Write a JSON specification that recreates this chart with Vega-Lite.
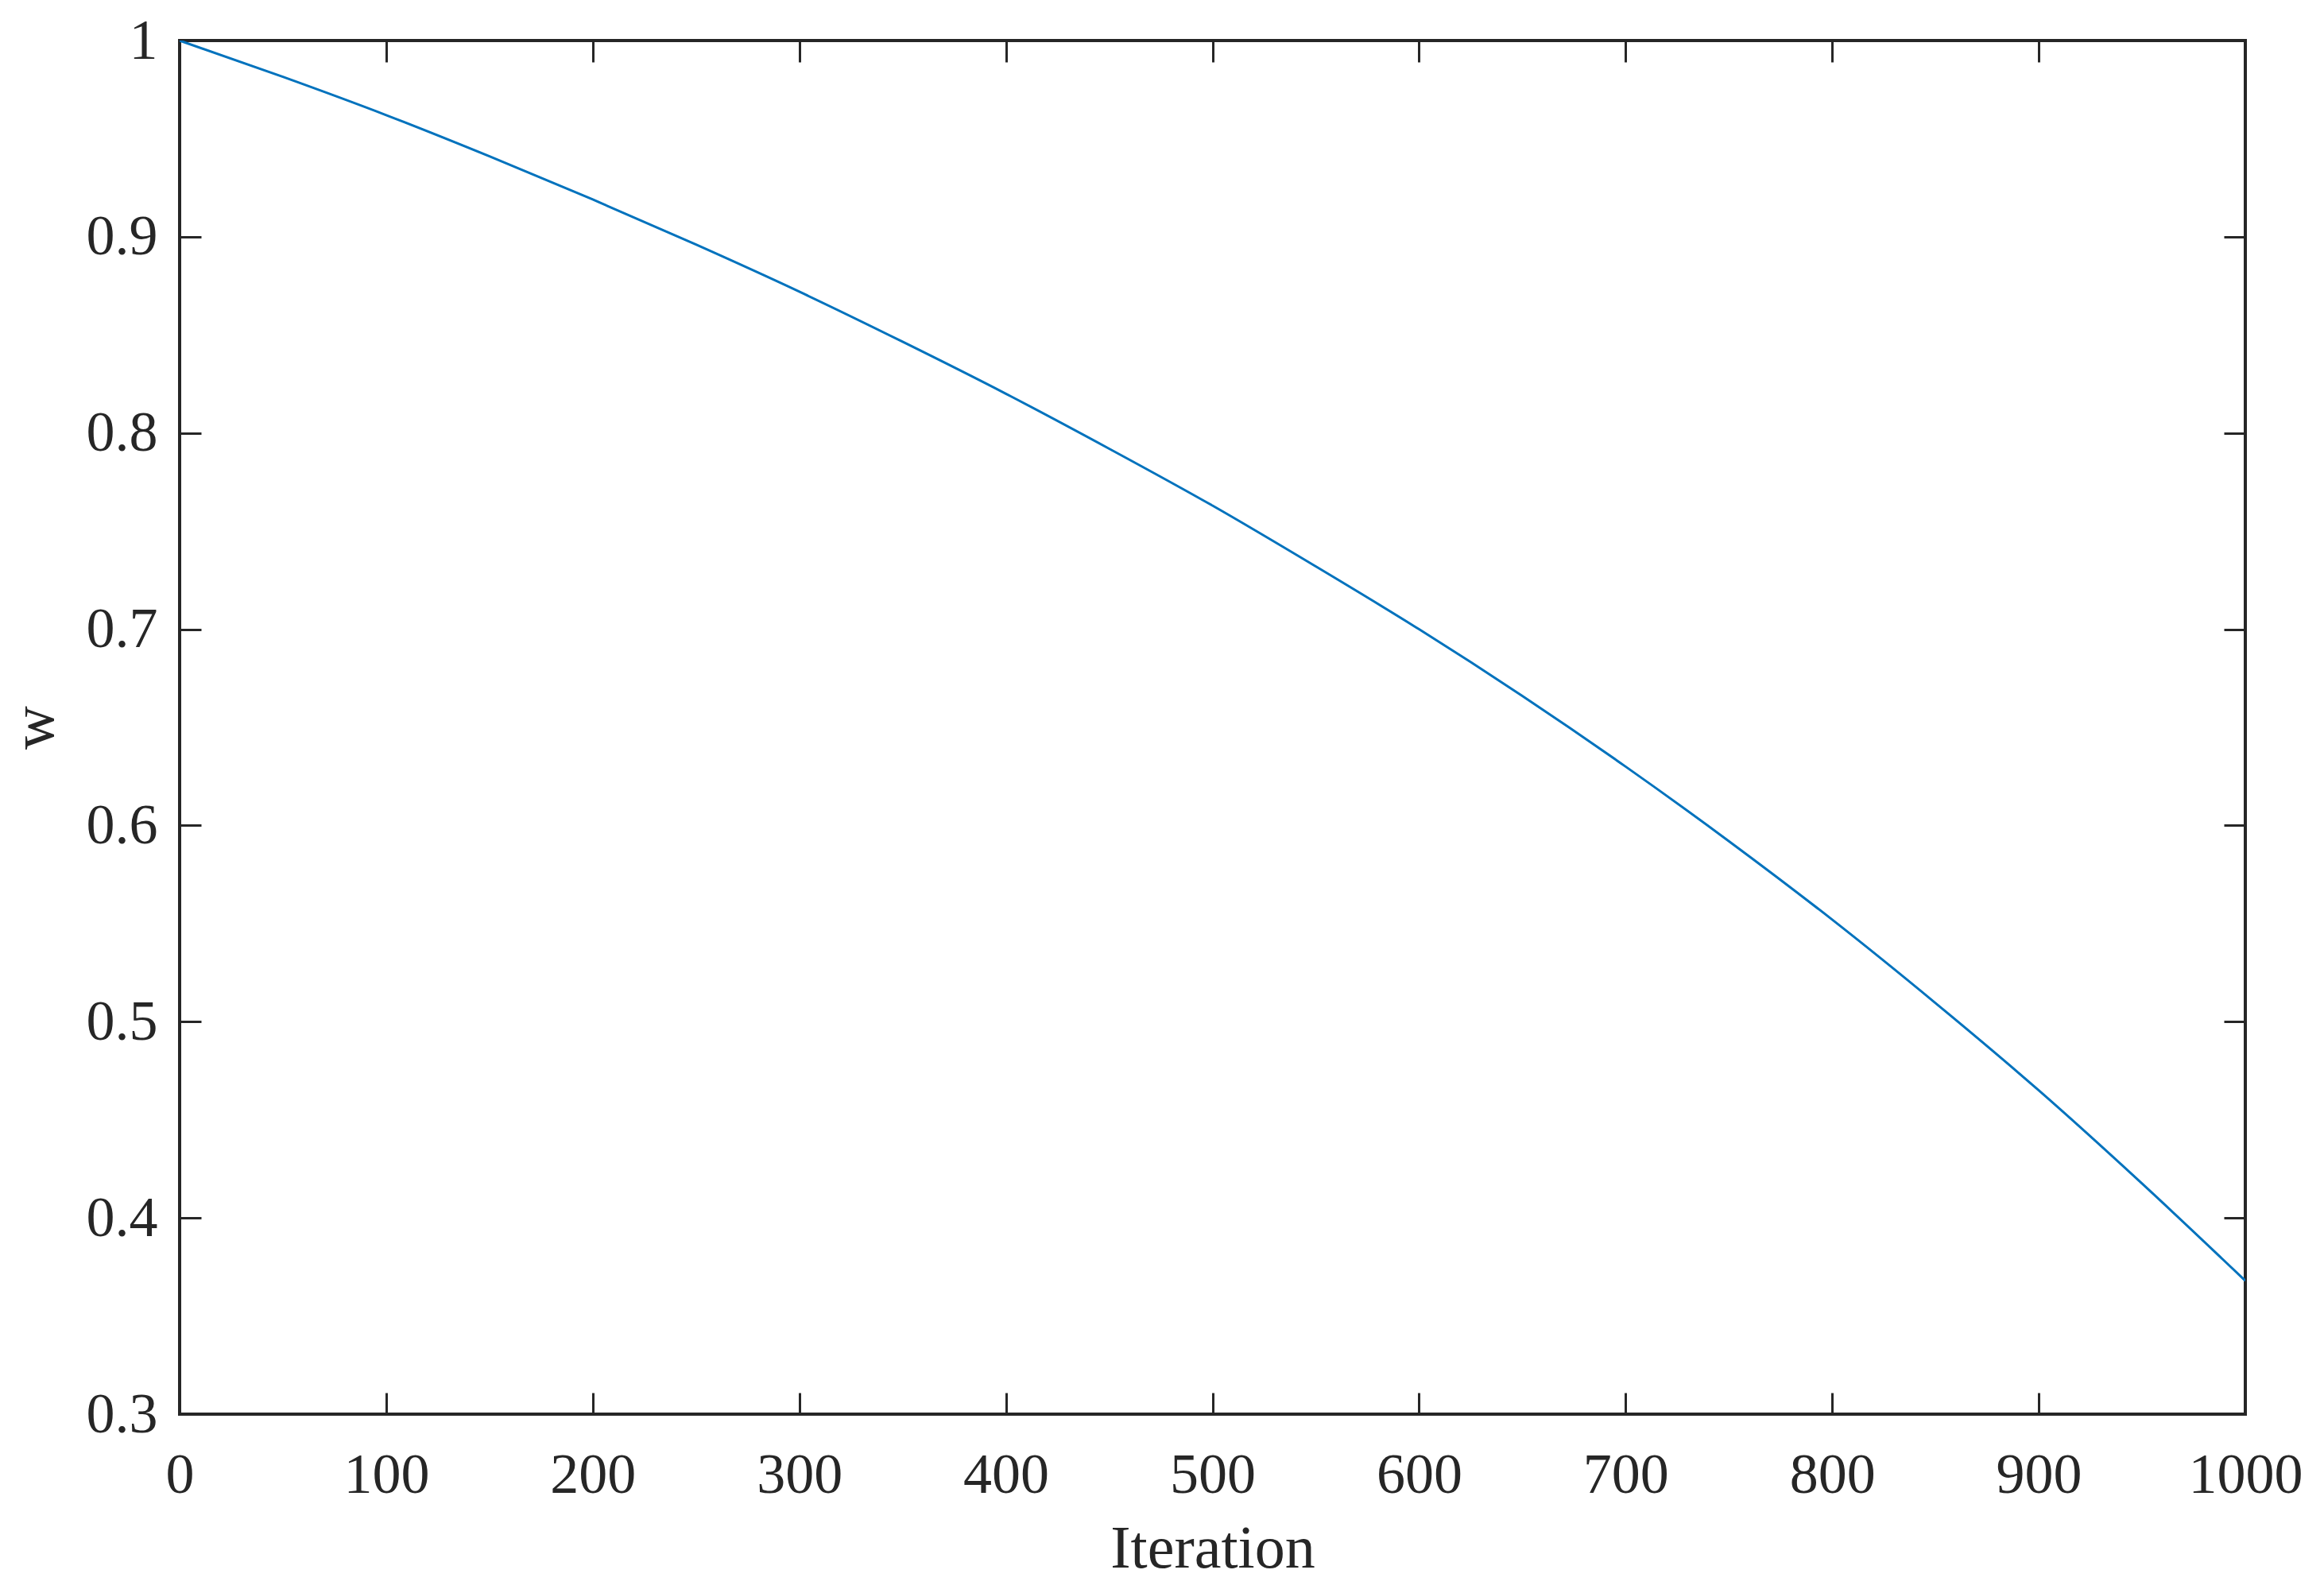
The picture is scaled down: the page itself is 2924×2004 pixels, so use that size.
{
  "$schema": "https://vega.github.io/schema/vega-lite/v6.json",
  "autosize": "none",
  "padding": {"left": 226, "top": 51, "right": 99, "bottom": 225},
  "width": 2599,
  "height": 1728,
  "background": "white",
  "config": {
    "view": {"stroke": "#262626", "strokeWidth": 4},
    "font": "Liberation Serif",
    "axis": {
      "labelFont": "Liberation Serif",
      "titleFont": "Liberation Serif",
      "labelColor": "#262626",
      "titleColor": "#262626",
      "labelFontSize": 72,
      "titleFontSize": 76,
      "titleFontWeight": "normal",
      "tickColor": "#262626",
      "tickWidth": 3,
      "tickSize": -27,
      "domain": false,
      "grid": false
    }
  },
  "data": {"values": [
    {"iteration": 0, "w": 1.0},
    {"iteration": 50, "w": 0.9815},
    {"iteration": 100, "w": 0.962},
    {"iteration": 150, "w": 0.941},
    {"iteration": 200, "w": 0.919},
    {"iteration": 250, "w": 0.896},
    {"iteration": 300, "w": 0.872},
    {"iteration": 350, "w": 0.8465},
    {"iteration": 400, "w": 0.820},
    {"iteration": 450, "w": 0.792},
    {"iteration": 500, "w": 0.763},
    {"iteration": 550, "w": 0.732},
    {"iteration": 600, "w": 0.700},
    {"iteration": 650, "w": 0.666},
    {"iteration": 700, "w": 0.630},
    {"iteration": 750, "w": 0.592},
    {"iteration": 800, "w": 0.552},
    {"iteration": 850, "w": 0.5095},
    {"iteration": 900, "w": 0.465},
    {"iteration": 950, "w": 0.4175},
    {"iteration": 1000, "w": 0.368}
  ]},
  "layer": [
    {
      "mark": {"type": "line", "color": "#0072BD", "strokeWidth": 3, "interpolate": "monotone", "clip": true},
      "encoding": {
        "x": {"field": "iteration", "type": "quantitative",
              "scale": {"domain": [0, 1000], "nice": false, "zero": false},
              "axis": {"orient": "bottom", "title": "Iteration", "values": [0,100,200,300,400,500,600,700,800,900,1000], "format": "d",
                       "labelPadding": 68, "titlePadding": 20, "labelFlush": false, "labelOverlap": false}},
        "y": {"field": "w", "type": "quantitative",
              "scale": {"domain": [0.3, 1], "nice": false, "zero": false},
              "axis": {"orient": "left", "title": "w", "values": [0.3,0.4,0.5,0.6,0.7,0.8,0.9,1], "format": "~g",
                       "labelPadding": 55, "titlePadding": 26, "labelFlush": false, "labelOverlap": false}}
      }
    },
    {
      "mark": {"type": "line", "opacity": 0},
      "encoding": {
        "x": {"field": "iteration", "type": "quantitative",
              "scale": {"domain": [0, 1000], "nice": false, "zero": false},
              "axis": {"orient": "top", "title": null, "labels": false, "values": [0,100,200,300,400,500,600,700,800,900,1000]}},
        "y": {"field": "w", "type": "quantitative",
              "scale": {"domain": [0.3, 1], "nice": false, "zero": false},
              "axis": {"orient": "right", "title": null, "labels": false, "values": [0.3,0.4,0.5,0.6,0.7,0.8,0.9,1]}}
      }
    }
  ],
  "resolve": {"axis": {"x": "independent", "y": "independent"}}
}
